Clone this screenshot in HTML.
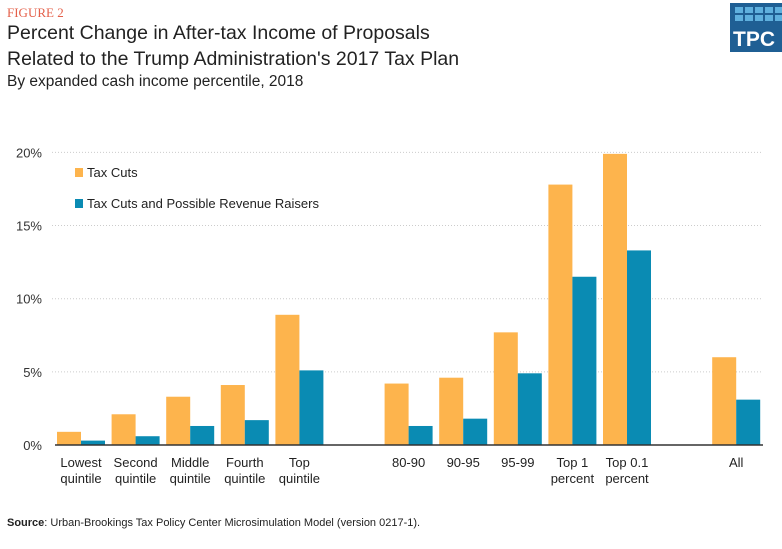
<!DOCTYPE html>
<html><head><meta charset="utf-8"><style>
body{margin:0;width:782px;height:549px;background:#fff;font-family:"Liberation Sans",sans-serif;overflow:hidden;position:relative}
.t{position:absolute;white-space:nowrap}
</style></head><body>
<div class="t" style="left:7px;top:5px;font-family:'Liberation Serif',serif;font-size:13px;color:#e4604a">FIGURE 2</div>
<div class="t" style="left:7px;top:20px;font-size:19.5px;line-height:26px;color:#222">Percent Change in After-tax Income of Proposals<br>Related to the Trump Administration's 2017 Tax Plan</div>
<div class="t" style="left:7px;top:73px;font-size:15.5px;color:#222">By expanded cash income percentile, 2018</div>
<div style="position:absolute;left:730px;top:3px;width:52px;height:49px;background:#1f5f94">
<svg width="52" height="49"><g fill="#5fb0de"><rect x="5" y="4" width="8" height="6"/><rect x="15" y="4" width="8" height="6"/><rect x="25" y="4" width="8" height="6"/><rect x="35" y="4" width="8" height="6"/><rect x="45" y="4" width="7" height="6"/><rect x="5" y="12" width="8" height="6"/><rect x="15" y="12" width="8" height="6"/><rect x="25" y="12" width="8" height="6"/><rect x="35" y="12" width="8" height="6"/><rect x="45" y="12" width="7" height="6"/></g>
<text x="3" y="43" fill="#fff" font-family="Liberation Sans" font-weight="bold" font-size="21">TPC</text></svg></div>
<svg id="c" width="782" height="549" style="position:absolute;left:0;top:0"></svg>
<div class="t" style="left:7px;top:517px;font-size:11px;color:#222"><b>Source</b>: Urban-Brookings Tax Policy Center Microsimulation Model (version 0217-1).</div>
<script>
const categories=["Lowest\nquintile","Second\nquintile","Middle\nquintile","Fourth\nquintile","Top\nquintile","80-90","90-95","95-99","Top 1\npercent","Top 0.1\npercent","All"];
const slots=[0,1,2,3,4,6,7,8,9,10,12];
const taxCuts=[0.9,2.1,3.3,4.1,8.9,4.2,4.6,7.7,17.8,19.9,6.0];
const revRaisers=[0.3,0.6,1.3,1.7,5.1,1.3,1.8,4.9,11.5,13.3,3.1];
const ticks=[0,5,10,15,20];
const tickLabels=["0%","5%","10%","15%","20%"];
const svg=document.getElementById('c');const NS='http://www.w3.org/2000/svg';
const y=v=>445-v*14.63;const xc=s=>81+s*54.6;const bw=24;
function mk(t,a){const e=document.createElementNS(NS,t);for(const k in a)e.setAttribute(k,a[k]);svg.appendChild(e);return e;}
ticks.forEach((t,i)=>{
 if(t>0){const g=mk('line',{x1:52,x2:763,y1:y(t),y2:y(t),stroke:'#ccc','stroke-dasharray':'1,2'});
 
 }
 const l=mk('text',{x:42,y:y(t)+5,'text-anchor':'end','font-size':13,fill:'#333','font-family':'Liberation Sans'});l.textContent=tickLabels[i];
 
 
});
categories.forEach((c,i)=>{
 const x=xc(slots[i]);
 const a=mk('rect',{x:x-bw,y:y(taxCuts[i]),width:bw,height:y(0)-y(taxCuts[i]),fill:'#fdb44d'});
 
 
 const b=mk('rect',{x:x,y:y(revRaisers[i]),width:bw,height:y(0)-y(revRaisers[i]),fill:'#0a8bb3'});
 
 
 c.split('\n').forEach((ln,j)=>{const t=mk('text',{x:x,y:467+j*16,'text-anchor':'middle','font-size':13,fill:'#222','font-family':'Liberation Sans'});t.textContent=ln;
 
 });
});
const ax=mk('line',{x1:55,x2:763,y1:y(0),y2:y(0),stroke:'#333','stroke-width':1.5});


[['Tax Cuts','#fdb44d',173],['Tax Cuts and Possible Revenue Raisers','#0a8bb3',204]].forEach(([n,col,yy])=>{
 const r=mk('rect',{x:75,y:yy-5,width:8,height:9,fill:col});
 
 
 const t=mk('text',{x:87,y:yy+4,'font-size':13,fill:'#222','font-family':'Liberation Sans'});t.textContent=n;
 
 
});
</script>
</body></html>
